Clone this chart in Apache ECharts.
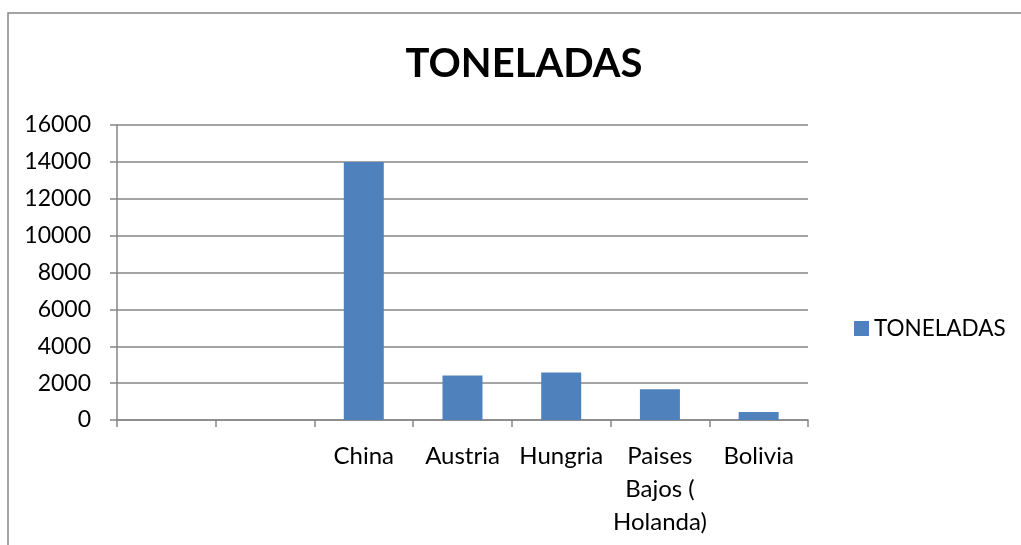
<!DOCTYPE html>
<html>
<head>
<meta charset="utf-8">
<script src="https://cdn.jsdelivr.net/npm/echarts@6/dist/echarts.min.js"></script>
<style>
  html, body { margin: 0; padding: 0; background: #fff; }
  #main { width: 1021px; height: 545px; }
</style>
</head>
<body>
<div id="main"></div>
<script>
var chart = echarts.init(document.getElementById('main'));

var categories = ['', ' ', 'China', 'Austria', 'Hungria', 'Paises\nBajos (\nHolanda)', 'Bolivia'];
var toneladas = [null, null, 14000, 2420, 2580, 1670, 440];
var yTicks = [0, 2000, 4000, 6000, 8000, 10000, 12000, 14000, 16000];

var gray = '#868686';
var font = 'Lato, "Open Sans", sans-serif';

var option = {
    animation: false,
    graphic: [{
        type: 'polyline',
        shape: { points: [[8, 560], [8, 13], [1040, 13]] },
        style: { fill: null, stroke: gray, lineWidth: 1.5 },
        silent: true
    }],
    title: {
        text: 'TONELADAS',
        left: 519,
        top: 39,
        textAlign: 'center',
        textStyle: {
            fontFamily: font,
            fontWeight: 'bold',
            fontSize: 40,
            color: '#000'
        }
    },
    legend: {
        left: 849,
        top: 312,
        orient: 'vertical',
        icon: 'rect',
        itemWidth: 15,
        itemHeight: 15,
        textStyle: {
            fontFamily: font,
            fontSize: 22.5,
            color: '#000'
        },
        data: ['TONELADAS']
    },
    grid: {
        left: 117,
        right: 213,
        top: 125,
        bottom: 125
    },
    xAxis: {
        type: 'category',
        data: categories,
        axisLine: { lineStyle: { color: gray, width: 1.5 } },
        axisTick: { show: true, length: 7, lineStyle: { color: gray, width: 1.5 } },
        axisLabel: {
            interval: 0,
            margin: 20,
            fontFamily: font,
            fontSize: 24,
            lineHeight: 33,
            color: '#000'
        }
    },
    yAxis: {
        type: 'value',
        min: yTicks[0],
        max: yTicks[yTicks.length - 1],
        interval: yTicks[1] - yTicks[0],
        axisLine: { show: true, lineStyle: { color: gray, width: 1.5 } },
        axisTick: { show: true, length: 7, lineStyle: { color: gray, width: 1.5 } },
        splitLine: { lineStyle: { color: gray, width: 1.5 } },
        axisLabel: {
            margin: 26,
            fontFamily: font,
            fontSize: 23,
            color: '#000',
            formatter: function (v) { return String(v); }
        }
    },
    series: [{
        name: 'TONELADAS',
        type: 'bar',
        barWidth: 40,
        itemStyle: { color: '#4F81BD' },
        data: toneladas
    }]
};

chart.setOption(option);
</script>
</body>
</html>
